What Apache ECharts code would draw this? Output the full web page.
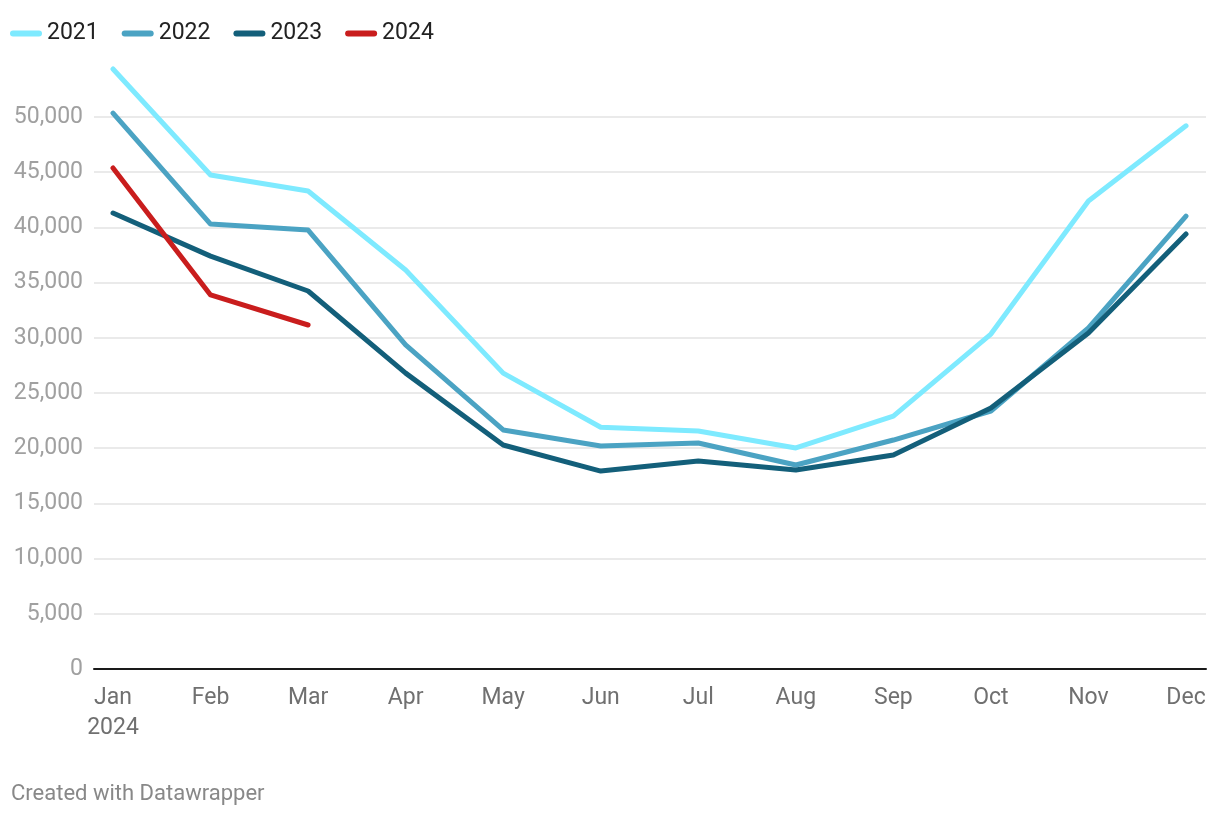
<!DOCTYPE html>
<html>
<head>
<meta charset="utf-8">
<script src="https://cdn.jsdelivr.net/npm/echarts@6/dist/echarts.min.js"></script>
<style>
html,body{margin:0;padding:0;background:#fff;}
#chart{width:1220px;height:816px;}
</style>
</head>
<body>
<div id="chart"></div>
<script>
const months = ['Jan','Feb','Mar','Apr','May','Jun','Jul','Aug','Sep','Oct','Nov','Dec'];
const monthLabels = ['Jan\n2024','Feb','Mar','Apr','May','Jun','Jul','Aug','Sep','Oct','Nov','Dec'];
const seriesNames = ['2021','2022','2023','2024'];
const v2021 = [54350, 44750, 43300, 36140, 26800, 21900, 21560, 20020, 22900, 30340, 42400, 49200];
const v2022 = [50360, 40300, 39760, 29350, 21650, 20200, 20470, 18480, 20740, 23370, 30890, 41030];
const v2023 = [41300, 37400, 34240, 26800, 20290, 17930, 18840, 18020, 19380, 23640, 30430, 39400];
const v2024 = [45380, 33880, 31160];
const colors = ['#7eeaff', '#4ba3c3', '#135f7a', '#c91d1d'];
const yTicks = [0, 5000, 10000, 15000, 20000, 25000, 30000, 35000, 40000, 45000, 50000];

const chart = echarts.init(document.getElementById('chart'), null, {renderer: 'canvas'});
const font = 'Roboto, "Noto Sans", sans-serif';
const yMin = yTicks[0], yMax = yTicks[yTicks.length - 1], yStep = yTicks[1] - yTicks[0];

function mkSeries(name, data, color, z) {
  return {
    name: name, type: 'line', data: data,
    xAxisIndex: 1, yAxisIndex: 1,
    symbol: 'none', clip: false, z: z,
    lineStyle: {color: color, width: 5, cap: 'round', join: 'round'},
    itemStyle: {color: color},
    emphasis: {disabled: true}
  };
}

chart.setOption({
  animation: false,
  backgroundColor: '#fff',
  textStyle: {fontFamily: font},
  legend: {
    left: 10, top: 22, padding: 0,
    itemWidth: 32, itemHeight: 6, itemGap: 23,
    icon: 'path://M3,0 H29 A3,3 0 0 1 29,6 H3 A3,3 0 0 1 3,0 Z',
    textStyle: {fontSize: 23, color: '#222', fontFamily: font},
    data: seriesNames
  },
  grid: [
    {left: 94, right: 14, top: 117, bottom: 147},
    {left: 113, right: 34, top: 117, bottom: 147}
  ],
  xAxis: [
    {
      type: 'category', gridIndex: 0, data: months, boundaryGap: false,
      axisLine: {show: true, lineStyle: {color: '#1a1a1a', width: 2}},
      axisTick: {show: false}, axisLabel: {show: false}, splitLine: {show: false}, z: 5
    },
    {
      type: 'category', gridIndex: 1, data: monthLabels, boundaryGap: false,
      axisLine: {show: false}, axisTick: {show: false}, splitLine: {show: false},
      axisLabel: {show: true, color: '#707070', fontSize: 23, fontFamily: font, margin: 14, lineHeight: 30, interval: 0}
    }
  ],
  yAxis: [
    {
      type: 'value', gridIndex: 0, min: yMin, max: yMax, interval: yStep,
      axisLine: {show: false}, axisTick: {show: false},
      splitLine: {show: true, lineStyle: {color: '#e3e3e3', width: 1.5}},
      axisLabel: {
        color: '#a0a0a0', fontSize: 23, fontFamily: font, margin: 11,
        formatter: v => v.toLocaleString('en-US')
      }
    },
    {
      type: 'value', gridIndex: 1, min: yMin, max: yMax, interval: yStep,
      show: false, splitLine: {show: false}
    }
  ],
  graphic: [{
    type: 'text', left: 11, top: 783,
    style: {text: 'Created with Datawrapper', fill: '#888', font: '22px ' + font}
  }],
  series: [
    mkSeries(seriesNames[0], v2021, colors[0], 2),
    mkSeries(seriesNames[1], v2022, colors[1], 3),
    mkSeries(seriesNames[2], v2023, colors[2], 4),
    mkSeries(seriesNames[3], v2024, colors[3], 5)
  ]
});
</script>
</body>
</html>
